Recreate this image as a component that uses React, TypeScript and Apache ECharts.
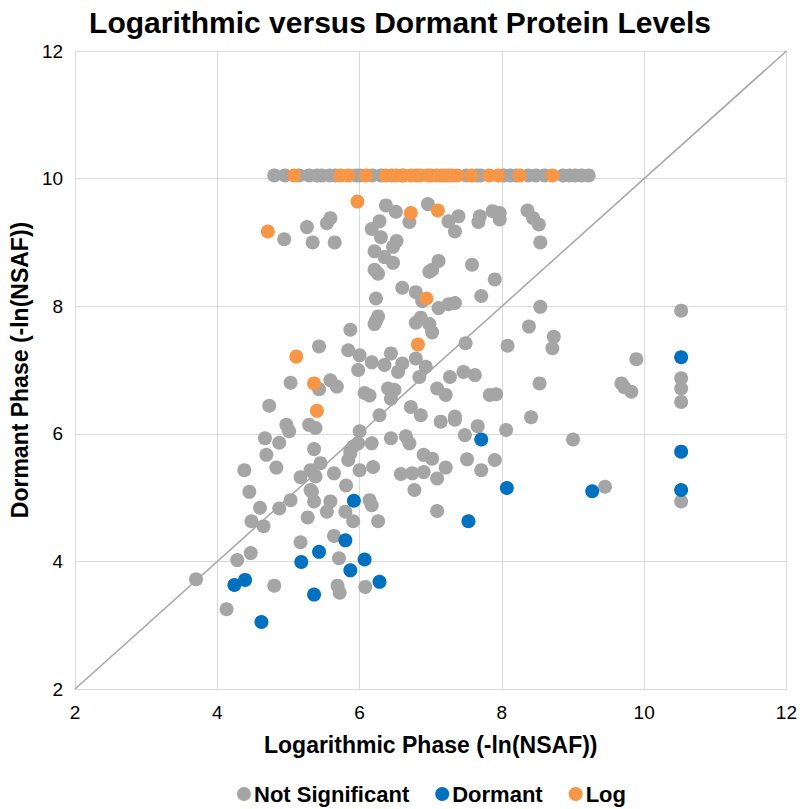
import React, { useEffect, useRef } from "react";
import * as echarts from "echarts";

const TITLE = "Logarithmic versus Dormant Protein Levels";
const X_NAME = "Logarithmic Phase (-ln(NSAF))";
const Y_NAME = "Dormant Phase (-ln(NSAF))";
const SERIES_NAMES = ["Not Significant", "Dormant", "Log"];

// Top row of points (dormant value capped at about 10.05)
const capRowNotSig = [4.8, 4.95, 5.15, 5.29, 5.4, 5.47, 5.58, 5.66, 5.95, 6.0, 6.18, 6.3, 6.45, 6.6, 6.8, 7.0, 7.15, 7.25, 7.5, 7.65, 7.7, 8.03, 8.12, 8.2, 8.37, 8.48, 8.6, 8.86, 8.95, 9.03, 9.12, 9.22];
const capRowLog = [5.08, 5.73, 5.84, 6.09, 6.37, 6.51, 6.62, 6.73, 6.85, 6.96, 7.08, 7.2, 7.3, 7.37, 7.57, 7.82, 7.95, 8.25, 8.71];
const CAP_Y = 10.05;

const notSignificant: number[][] = [
  [4.94, 9.05], [5.26, 9.24], [5.34, 9.0], [5.54, 9.3], [5.59, 9.38], [5.65, 9.0],
  [6.37, 9.58], [6.51, 9.48], [6.7, 9.32], [6.96, 9.6], [6.28, 9.33], [6.17, 9.21],
  [6.3, 9.08], [6.52, 9.02], [6.47, 8.93], [6.21, 8.86], [6.35, 8.77], [6.47, 8.68],
  [6.21, 8.57], [6.26, 8.51], [6.6, 8.29], [6.79, 8.22], [6.23, 8.12], [6.98, 8.54],
  [7.25, 9.33], [7.39, 9.41], [7.34, 9.17], [7.69, 9.41], [7.67, 9.32], [7.87, 9.49],
  [7.97, 9.46], [7.97, 9.36], [8.36, 9.5], [8.44, 9.38], [8.52, 9.28], [8.54, 9.0],
  [7.11, 8.71], [7.02, 8.57], [7.58, 8.65], [7.9, 8.42], [6.88, 8.08], [7.11, 7.97],
  [7.25, 8.03], [7.34, 8.05], [7.71, 8.16], [8.54, 7.99], [6.23, 7.77], [6.21, 7.72],
  [5.87, 7.63], [6.26, 7.84], [6.79, 7.74], [6.86, 7.82], [6.98, 7.72], [7.02, 7.59],
  [5.43, 7.37], [5.84, 7.31], [6.0, 7.23], [6.17, 7.12], [6.35, 7.08], [6.44, 7.26],
  [6.6, 7.1], [6.54, 6.97], [5.98, 7.0], [6.79, 7.18], [6.93, 7.05], [6.84, 6.89],
  [7.49, 7.42], [7.27, 6.89], [7.46, 6.97], [7.62, 6.92], [8.08, 7.38], [8.38, 7.68],
  [8.53, 6.79], [8.73, 7.52], [8.71, 7.34], [5.59, 6.84], [5.68, 6.74], [5.03, 6.8],
  [5.43, 6.7], [6.07, 6.64], [6.14, 6.6], [6.4, 6.71], [6.49, 6.69], [6.44, 6.55],
  [4.73, 6.44], [6.28, 6.29], [6.72, 6.42], [6.86, 6.29], [4.97, 6.14], [5.01, 6.04],
  [4.67, 5.93], [4.87, 5.86], [5.29, 6.14], [5.38, 6.09], [6.0, 6.04], [5.91, 5.8],
  [6.17, 5.85], [6.44, 5.93], [6.65, 5.96], [6.7, 5.85], [4.69, 5.67], [4.83, 5.47],
  [4.38, 5.43], [4.45, 5.09], [4.6, 4.84], [4.87, 4.83], [5.03, 4.96], [4.48, 4.63],
  [4.65, 4.55], [5.36, 5.76], [5.17, 5.32], [5.31, 5.43], [5.45, 5.54], [5.38, 5.33],
  [5.33, 5.09], [5.36, 4.94], [5.59, 4.94], [5.54, 4.78], [5.27, 4.69], [5.64, 5.38],
  [5.81, 5.19], [5.87, 5.69], [5.84, 5.59], [5.98, 5.85], [6.0, 5.43], [6.19, 5.48],
  [6.14, 4.96], [6.17, 4.88], [5.8, 4.78], [5.91, 4.63], [6.26, 4.63], [6.58, 5.37],
  [6.74, 5.38], [6.9, 5.4], [6.77, 5.12], [6.9, 5.67], [7.02, 5.61], [7.21, 5.47],
  [7.09, 5.3], [5.17, 4.3], [5.64, 4.4], [5.71, 4.05], [4.47, 4.13], [4.28, 4.02],
  [3.7, 3.72], [4.8, 3.62], [5.69, 3.62], [6.08, 3.6], [5.72, 3.51], [4.13, 3.25],
  [7.21, 6.61], [7.09, 6.71], [7.14, 6.19], [7.34, 6.27], [7.34, 6.22], [7.66, 6.12],
  [8.06, 6.06], [8.41, 6.26], [7.83, 6.61], [7.92, 6.62], [7.48, 5.98], [7.51, 5.6],
  [7.71, 5.43], [7.9, 5.59], [7.09, 4.79], [5.87, 5.74], [5.31, 5.12], [10.52, 7.93],
  [9.89, 7.17], [10.52, 6.87], [10.52, 6.71], [10.52, 6.5], [9.68, 6.79], [9.72, 6.73],
  [9.82, 6.66], [9.0, 5.91], [9.45, 5.17], [10.52, 4.94],
];

const dormant: number[][] = [
  [5.92, 4.95], [5.8, 4.33], [5.43, 4.15], [5.18, 3.99], [6.07, 4.03], [5.87, 3.86],
  [6.28, 3.68], [4.24, 3.63], [4.39, 3.71], [5.36, 3.48], [4.62, 3.05], [7.71, 5.91],
  [8.07, 5.15], [7.53, 4.63], [9.27, 5.1], [10.52, 7.2], [10.52, 5.72], [10.52, 5.12],
];

const logSig: number[][] = [
  [5.11, 7.21], [5.36, 6.79], [5.4, 6.36], [6.82, 7.4], [6.94, 8.12], [4.71, 9.17],
  [5.97, 9.64], [6.72, 9.46], [7.1, 9.5],
];

const AXIS_MIN = 2;
const AXIS_MAX = 12;
const AXIS_STEP = 2;

const COLORS = ["#A5A5A5", "#0070C0", "#F79646"];
const FONT = "'Liberation Sans', Arial, sans-serif";

export default function App() {
  const ref = useRef<HTMLDivElement>(null);

  useEffect(() => {
    if (!ref.current) return;
    const chart = echarts.init(ref.current, undefined, { renderer: "svg" });

    const nsData = [...notSignificant, ...capRowNotSig.map((x) => [x, CAP_Y])];
    const logData = [...logSig, ...capRowLog.map((x) => [x, CAP_Y])];

    const axisCommon = {
      type: "value" as const,
      min: AXIS_MIN,
      max: AXIS_MAX,
      interval: AXIS_STEP,
      axisLine: { show: true, lineStyle: { color: "#D9D9D9", width: 1 } },
      axisTick: { show: false },
      splitLine: { show: true, lineStyle: { color: "#D9D9D9", width: 1 } },
      axisLabel: { color: "#000", fontSize: 19, fontFamily: FONT },
      nameLocation: "middle" as const,
      nameTextStyle: { color: "#000", fontSize: 23, fontWeight: "bold" as const, fontFamily: FONT },
    };

    chart.setOption({
      animation: false,
      backgroundColor: "#fff",
      title: {
        text: TITLE,
        left: "center",
        top: 2,
        textStyle: { color: "#000", fontSize: 30, fontWeight: "bold", fontFamily: FONT },
      },
      grid: { left: 67.5, right: 11, top: 51, bottom: 120 },
      xAxis: {
        ...axisCommon,
        name: X_NAME,
        nameGap: 44,
        axisLabel: { ...axisCommon.axisLabel, margin: 14 },
      },
      yAxis: {
        ...axisCommon,
        name: Y_NAME,
        nameGap: 42,
        nameRotate: 90,
        axisLabel: { ...axisCommon.axisLabel, margin: 12 },
      },
      legend: {
        data: SERIES_NAMES,
        left: 232,
        top: 778,
        icon: "circle",
        itemWidth: 14,
        itemHeight: 14,
        itemGap: 26,
        textStyle: { color: "#000", fontSize: 22, fontWeight: "bold", fontFamily: FONT, padding: [0, 0, 0, -2] },
      },
      series: [
        {
          type: "line",
          data: [[AXIS_MIN, AXIS_MIN], [AXIS_MAX, AXIS_MAX]],
          symbol: "none",
          lineStyle: { color: "#A5A5A5", width: 1.5 },
          silent: true,
          z: 1,
          legendHoverLink: false,
        },
        {
          name: SERIES_NAMES[0],
          type: "scatter",
          data: nsData,
          symbolSize: 14,
          itemStyle: { color: COLORS[0], opacity: 1 },
          z: 2,
        },
        {
          name: SERIES_NAMES[1],
          type: "scatter",
          data: dormant,
          symbolSize: 14,
          itemStyle: { color: COLORS[1], opacity: 1 },
          z: 3,
        },
        {
          name: SERIES_NAMES[2],
          type: "scatter",
          data: logData,
          symbolSize: 14,
          itemStyle: { color: COLORS[2], opacity: 1 },
          z: 4,
        },
      ],
    });

    return () => chart.dispose();
  }, []);

  return <div ref={ref} style={{ width: 800, height: 809, position: "absolute", left: 0, top: 0 }} />;
}
